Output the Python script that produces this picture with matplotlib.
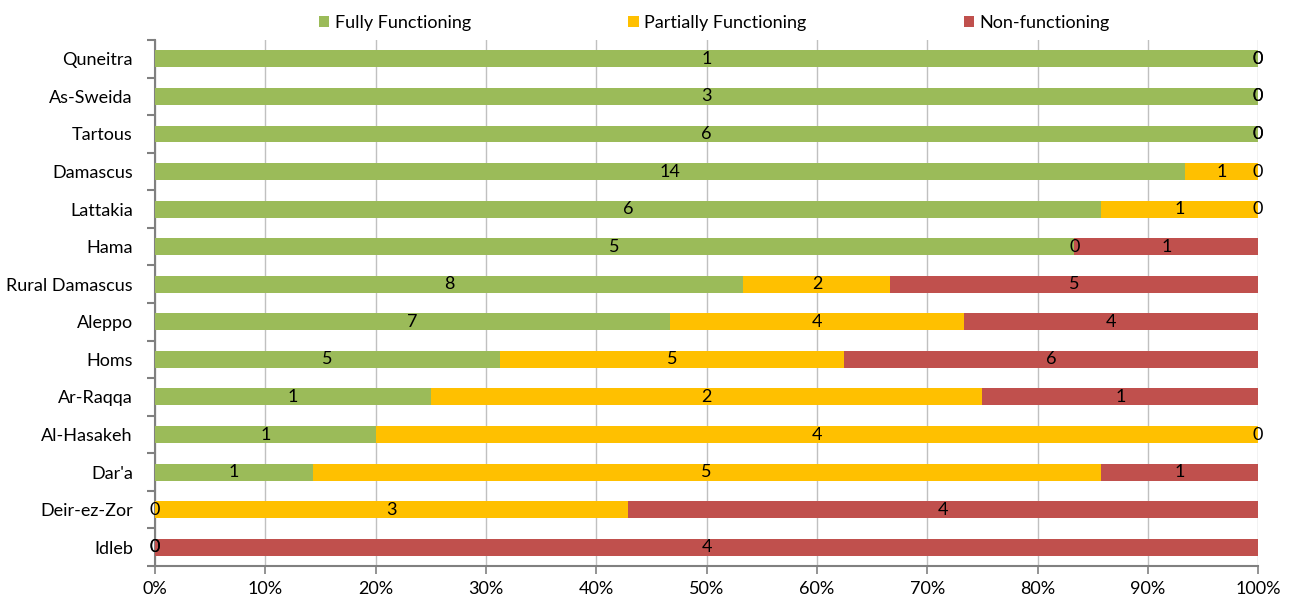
import numpy as np
import matplotlib.pyplot as plt

regions = ["Quneitra", "As-Sweida", "Tartous", "Damascus", "Lattakia", "Hama",
           "Rural Damascus", "Aleppo", "Homs", "Ar-Raqqa", "Al-Hasakeh", "Dar'a",
           "Deir-ez-Zor", "Idleb"]
fully = [1, 3, 6, 14, 6, 5, 8, 7, 5, 1, 1, 1, 0, 0]
partially = [0, 0, 0, 1, 1, 0, 2, 4, 5, 2, 4, 5, 3, 0]
nonfunc = [0, 0, 0, 0, 0, 1, 5, 4, 6, 1, 0, 1, 4, 4]

series_names = ["Fully Functioning", "Partially Functioning", "Non-functioning"]
colors = ["#9BBB59", "#FFC000", "#C0504D"]

plt.rcParams["font.family"] = ["Lato", "DejaVu Sans"]

counts = np.array([fully, partially, nonfunc], dtype=float)
share = counts / counts.sum(axis=0) * 100

fig = plt.figure(figsize=(12.96, 6.01), dpi=100)
ax = fig.add_axes([0.1196, 0.0582, 0.8512, 0.8752])

y = np.arange(len(regions))[::-1]
left = np.zeros(len(regions))
for i in range(3):
    ax.barh(y, share[i], left=left, height=0.45, color=colors[i],
            label=series_names[i], zorder=3)
    for j in range(len(regions)):
        cx = left[j] + share[i][j] / 2
        ax.text(cx, y[j], str(int(counts[i][j])), ha="center", va="center",
                fontsize=13, color="black", zorder=4)
    left = left + share[i]

ax.set_xlim(0, 100)
ax.set_ylim(-0.5, len(regions) - 0.5)
ax.set_xticks(np.arange(0, 101, 10))
ax.set_xticklabels([f"{v}%" for v in range(0, 101, 10)], fontsize=13)
ax.set_yticks(np.arange(-0.5, len(regions), 1.0))
ax.set_yticklabels([])
ax.set_yticks(y, minor=True)
ax.set_yticklabels(regions, minor=True, fontsize=13)
ax.tick_params(axis="y", which="minor", length=0, pad=16)
ax.tick_params(axis="y", which="major", length=6, width=1.5, color="#808080", direction="out")
ax.tick_params(axis="x", length=6, width=1.2, color="#808080", direction="out", pad=5)
ax.grid(axis="x", color="#C0C0C0", linewidth=1, zorder=0)
for s in ["top", "right"]:
    ax.spines[s].set_visible(False)
for s in ["left", "bottom"]:
    ax.spines[s].set_color("#808080")
    ax.spines[s].set_linewidth(1.5)

ax.legend(loc="lower center", bbox_to_anchor=(0.507, 1.0), ncol=3, frameon=False,
          fontsize=13, handlelength=0.6, handleheight=0.6, handletextpad=0.3,
          columnspacing=8.7, borderaxespad=0.1)

fig.savefig("out.png", dpi=100)
